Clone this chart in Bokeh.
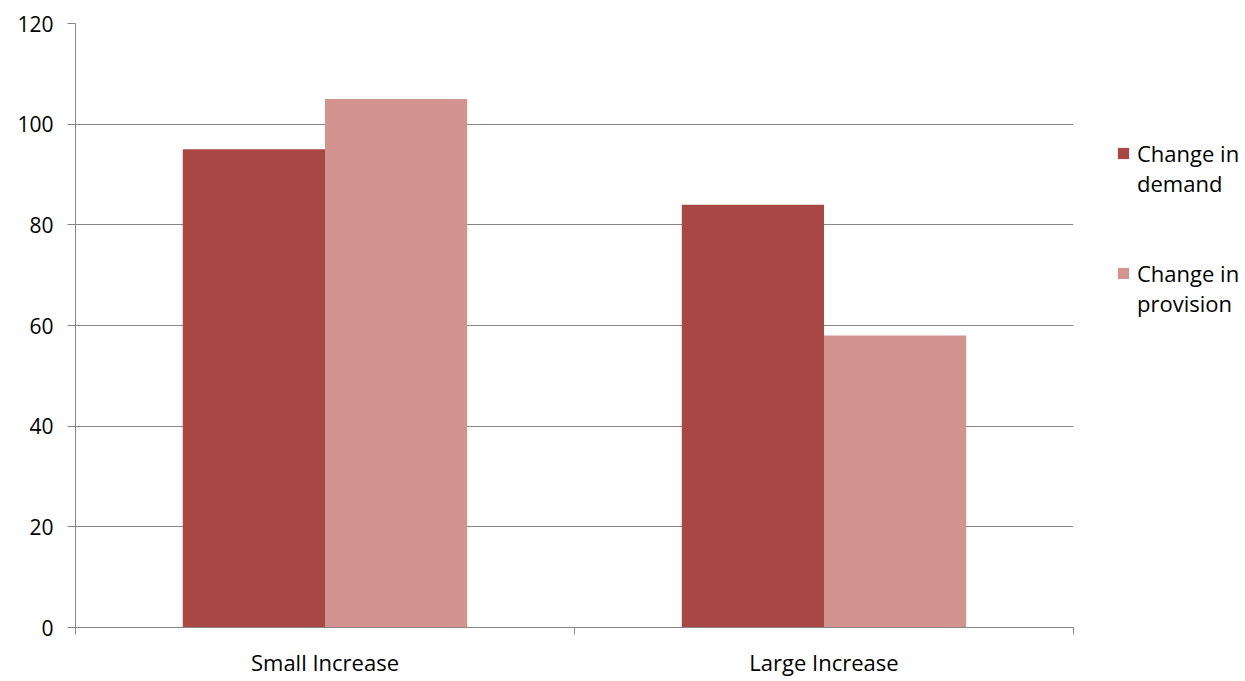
from bokeh.plotting import figure
from bokeh.models import FixedTicker, Range1d, Legend, LegendItem, ColumnDataSource
from bokeh.embed import file_html
from bokeh.resources import INLINE

categories = ["Small Increase", "Large Increase"]
series_names = [("Change in", "demand"), ("Change in", "provision")]
demand = [95, 84]
provision = [105, 58]
y_ticks = [0, 20, 40, 60, 80, 100, 120]

colors = ["#A94744", "#D39391"]
bar_w = 0.285
FONT = "Open Sans"
GRAY = "#868686"

p = figure(frame_width=998, frame_height=604, output_backend="svg", toolbar_location=None,
           x_range=Range1d(0, len(categories)), y_range=Range1d(0, 120),
           min_border_left=75, min_border_right=172, min_border_top=23, min_border_bottom=54)
p.outline_line_color = None
p.background_fill_color = "white"

centers = [i + 0.5 for i in range(len(categories))]
blank = p.vbar(x=[], top=[], width=bar_w, fill_alpha=0, line_alpha=0)
items = []
for k, vals in enumerate([demand, provision]):
    xs = [c + (k - 0.5) * bar_w for c in centers]
    src = ColumnDataSource(dict(x=xs, top=vals))
    r = p.vbar(x="x", top="top", width=bar_w, bottom=0, source=src,
               fill_color=colors[k], line_color=None)
    items.append(LegendItem(label=series_names[k][0], renderers=[r]))
    items.append(LegendItem(label=series_names[k][1], renderers=[blank]))
    if k == 0:
        items.append(LegendItem(label="\u00a0", renderers=[blank]))
        items.append(LegendItem(label="\u00a0\u00a0", renderers=[blank]))

# y axis
p.yaxis.ticker = FixedTicker(ticks=y_ticks)
p.yaxis.axis_line_color = GRAY
p.yaxis.major_tick_line_color = GRAY
p.yaxis.major_tick_in = 0
p.yaxis.major_tick_out = 8
p.yaxis.minor_tick_line_color = None
p.yaxis.major_label_text_font = FONT
p.yaxis.major_label_text_font_size = "21px"
p.yaxis.major_label_text_color = "#000000"
p.yaxis.major_label_standoff = 14

p.ygrid.ticker = FixedTicker(ticks=y_ticks)
p.ygrid.grid_line_color = GRAY
p.xgrid.grid_line_color = None

# x axis
p.xaxis.ticker = FixedTicker(ticks=centers, minor_ticks=list(range(len(categories) + 1)))
p.xaxis.major_label_overrides = {c: n for c, n in zip(centers, categories)}
p.xaxis.axis_line_color = GRAY
p.xaxis.major_tick_line_color = None
p.xaxis.minor_tick_line_color = GRAY
p.xaxis.minor_tick_in = 0
p.xaxis.minor_tick_out = 7
p.xaxis.major_label_text_font = FONT
p.xaxis.major_label_text_font_size = "22px"
p.xaxis.major_label_text_color = "#000000"
p.xaxis.major_label_standoff = 12

legend = Legend(items=items, location=(43, 309), orientation="vertical",
                label_text_font=FONT, label_text_font_size="22px",
                label_text_line_height=1.3,
                label_text_color="#000000", glyph_width=14, glyph_height=14,
                label_standoff=7, spacing=0, padding=0, margin=0,
                border_line_color=None, background_fill_alpha=0)
p.add_layout(legend, "right")

open("out.html", "w").write(file_html(p, INLINE))
